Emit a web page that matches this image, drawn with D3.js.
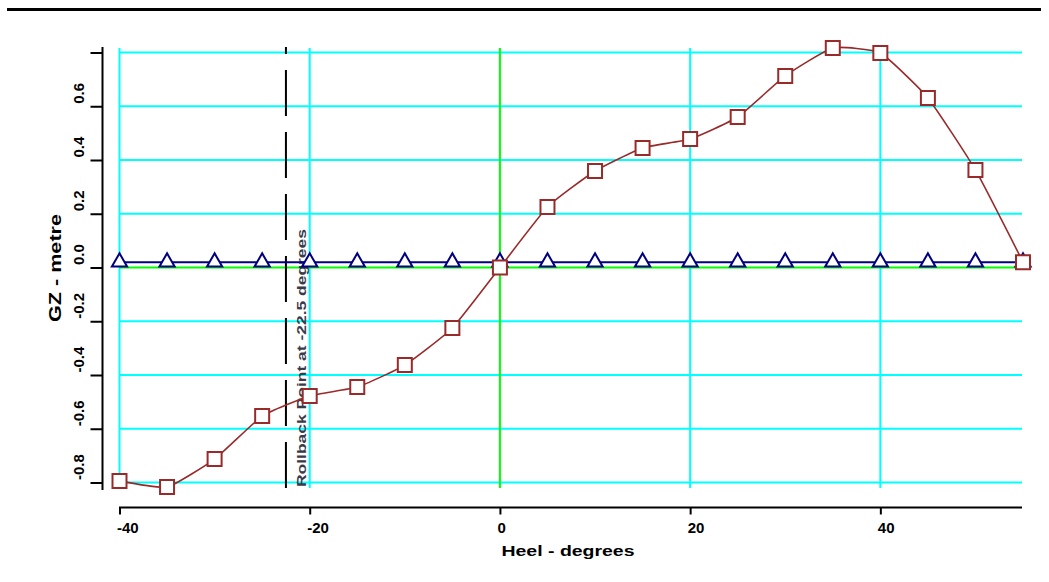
<!DOCTYPE html>
<html>
<head>
<meta charset="utf-8">
<script src="https://cdn.jsdelivr.net/npm/d3@7"></script>
<style>
  html, body { margin: 0; padding: 0; background: #fff; }
  svg { display: block; font-family: "Liberation Sans", Arial, sans-serif; }
</style>
</head>
<body>
<svg id="chart" width="1049" height="582"></svg>
<script>
// ---- data ----
const heelAngles = [-40, -35, -30, -25, -20, -15, -10, -5, 0, 5, 10, 15, 20, 25, 30, 35, 40, 45, 50, 55];
const gzValues   = [-0.794, -0.817, -0.713, -0.553, -0.478, -0.445, -0.363, -0.225, 0.0, 0.225,
                    0.359, 0.445, 0.478, 0.560, 0.713, 0.817, 0.798, 0.631, 0.363, 0.020];
const refValues  = [0.02, 0.02, 0.02, 0.02, 0.02, 0.02, 0.02, 0.02, 0.02, 0.02,
                    0.02, 0.02, 0.02, 0.02, 0.02, 0.02, 0.02, 0.02, 0.02, 0.02];
const xTickValues = [-40, -20, 0, 20, 40];
const xTickLabels = ["-40", "-20", "0", "20", "40"];
const xGridValues = [-40, -20, 20, 40];
const yTickValues = [0.8, 0.6, 0.4, 0.2, 0.0, -0.2, -0.4, -0.6, -0.8];
const yTickLabels = ["", "0.6", "0.4", "0.2", "0.0", "-0.2", "-0.4", "-0.6", "-0.8"];
const yGridValues = [0.8, 0.6, 0.4, 0.2, -0.2, -0.4, -0.6, -0.8];
const markerAngle = -22.5;
const markerText = "Rollback Point at -22.5 degrees";
const xTitle = "Heel - degrees";
const yTitle = "GZ - metre";

// ---- layout ----
const svg = d3.select("#chart");
const plotTop = 47, plotBottom = 489;
const x = d3.scaleLinear().domain([-40, 55]).range([119.5, 1023]);
const y = d3.scaleLinear().domain([-0.8, 0.8]).range([482.5, 52.5]);

const cyan = "#00ffff", green = "#00ff00", red = "#992a2a", navy = "#000080";

// top rule
svg.append("line").attr("x1", 7).attr("x2", 1041).attr("y1", 9.5).attr("y2", 9.5)
  .attr("stroke", "#000").attr("stroke-width", 3);

// grid
const grid = svg.append("g");
grid.selectAll("line.h").data(yGridValues).join("line")
  .attr("x1", x(-40)).attr("x2", x(55) - 1)
  .attr("y1", d => y(d)).attr("y2", d => y(d))
  .attr("stroke", cyan).attr("stroke-width", 2);
grid.selectAll("line.v").data(xGridValues).join("line")
  .attr("x1", d => x(d)).attr("x2", d => x(d))
  .attr("y1", plotTop + 1).attr("y2", plotBottom - 1)
  .attr("stroke", cyan).attr("stroke-width", 2);
// zero lines
grid.append("line").attr("x1", x(-40)).attr("x2", x(55) - 1)
  .attr("y1", y(0)).attr("y2", y(0)).attr("stroke", green).attr("stroke-width", 2);
grid.append("line").attr("x1", x(0)).attr("x2", x(0))
  .attr("y1", plotTop + 1).attr("y2", plotBottom - 1).attr("stroke", green).attr("stroke-width", 2);

// dashed marker line (drawn bottom-up so dash phase starts at the bottom)
svg.append("line")
  .attr("x1", x(markerAngle)).attr("x2", x(markerAngle))
  .attr("y1", plotBottom - 1).attr("y2", plotTop)
  .attr("stroke", "#000").attr("stroke-width", 2)
  .attr("stroke-dasharray", "46,16");
svg.append("text")
  .attr("transform", `translate(${x(markerAngle) + 20},487) rotate(-90)`)
  .attr("text-anchor", "start")
  .attr("font-size", 13).attr("font-weight", "bold").attr("fill", "#3a3a4a")
  .attr("textLength", 258).attr("lengthAdjust", "spacingAndGlyphs")
  .text(markerText);

// series
const refData = heelAngles.map((a, i) => ({a, v: refValues[i]}));
const gzData = heelAngles.map((a, i) => ({a, v: gzValues[i]}));

svg.append("path").datum(refData)
  .attr("d", d3.line().x(d => x(d.a)).y(d => y(d.v)))
  .attr("fill", "none").attr("stroke", navy).attr("stroke-width", 2);

svg.append("path").datum(gzData)
  .attr("d", d3.line().curve(d3.curveCardinal.tension(0.55)).x(d => x(d.a)).y(d => y(d.v)))
  .attr("fill", "none").attr("stroke", red).attr("stroke-width", 1.6);

svg.selectAll("path.tri").data(refData).join("path")
  .attr("class", "tri")
  .attr("transform", d => `translate(${x(d.a)},${y(d.v)})`)
  .attr("d", d3.symbol(d3.symbolTriangle, 100))
  .attr("fill", "#fff").attr("stroke", navy).attr("stroke-width", 2);

svg.selectAll("path.sq").data(gzData).join("path")
  .attr("class", "sq")
  .attr("transform", d => `translate(${x(d.a)},${y(d.v)})`)
  .attr("d", d3.symbol(d3.symbolSquare, 196))
  .attr("fill", "#fff").attr("stroke", red).attr("stroke-width", 2);

// y axis
const yAxisX = 102.5;
const yAxis = d3.axisLeft(y).tickValues(yTickValues).tickSize(12).tickSizeOuter(0)
  .tickFormat((d, i) => yTickLabels[i]);
const gy = svg.append("g").attr("transform", `translate(${yAxisX},0)`).call(yAxis);
gy.select(".domain").remove();
gy.selectAll(".tick line").attr("stroke", "#000").attr("stroke-width", 2);
gy.selectAll(".tick text")
  .attr("x", null).attr("dy", null)
  .attr("transform", "translate(-19,-3) rotate(-90)")
  .attr("text-anchor", "start")
  .attr("font-size", 15).attr("font-weight", "bold").attr("fill", "#000");
svg.append("line").attr("x1", yAxisX).attr("x2", yAxisX)
  .attr("y1", plotTop).attr("y2", plotBottom + 1)
  .attr("stroke", "#000").attr("stroke-width", 2);

// x axis
const xAxisY = 507.5;
const xAxis = d3.axisBottom(x).tickValues(xTickValues).tickSize(7).tickSizeOuter(0)
  .tickFormat((d, i) => xTickLabels[i]);
const gx = svg.append("g").attr("transform", `translate(0,${xAxisY})`).call(xAxis);
gx.select(".domain").remove();
gx.selectAll(".tick line").attr("stroke", "#000").attr("stroke-width", 2);
gx.selectAll(".tick text")
  .attr("y", 25).attr("dy", null).attr("x", -3)
  .attr("text-anchor", "start")
  .attr("font-size", 15).attr("font-weight", "bold").attr("fill", "#000");
svg.append("line").attr("x1", x(-40) - 0.5).attr("x2", x(55) - 1)
  .attr("y1", xAxisY).attr("y2", xAxisY)
  .attr("stroke", "#000").attr("stroke-width", 2);

// titles
svg.append("text")
  .attr("x", 568).attr("y", 556).attr("text-anchor", "middle")
  .attr("font-size", 15).attr("font-weight", "bold")
  .attr("textLength", 133).attr("lengthAdjust", "spacingAndGlyphs")
  .text(xTitle);
svg.append("text")
  .attr("transform", "translate(61,268) rotate(-90)")
  .attr("text-anchor", "middle")
  .attr("font-size", 17).attr("font-weight", "bold")
  .attr("textLength", 108).attr("lengthAdjust", "spacingAndGlyphs")
  .text(yTitle);
</script>
</body>
</html>
